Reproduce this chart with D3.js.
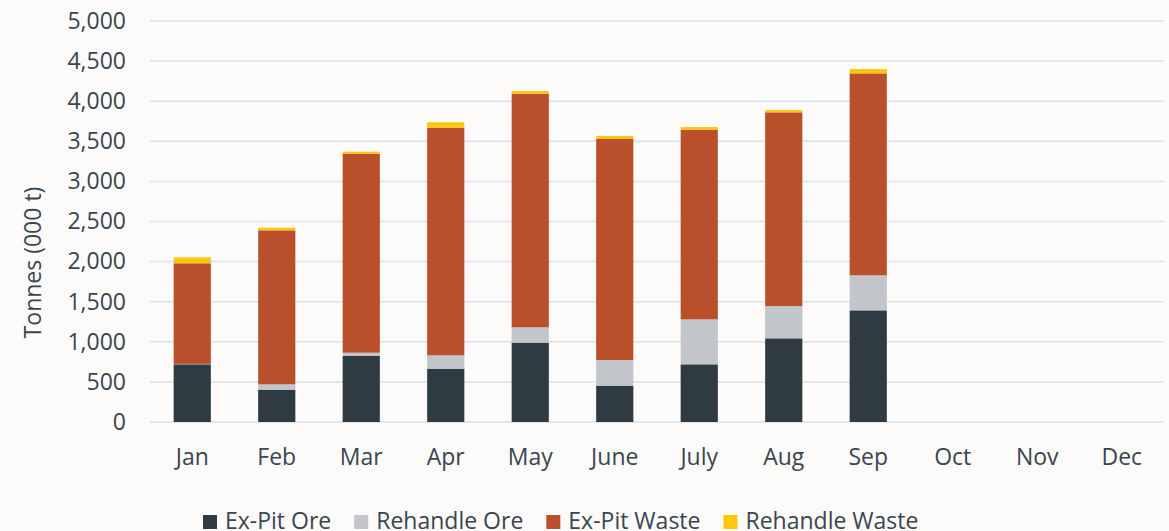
<!DOCTYPE html>
<html>
<head>
<meta charset="utf-8">
<script src="https://cdn.jsdelivr.net/npm/d3@7"></script>
<style>
  body { margin: 0; background: #fcfbfa; }
  svg { display: block; font-family: "Open Sans", sans-serif; }
</style>
</head>
<body>
<div id="viz"></div>
<script>
const width = 1169;
const height = 531;

// data (000 t)
const months = ["Jan", "Feb", "Mar", "Apr", "May", "June", "July", "Aug", "Sep", "Oct", "Nov", "Dec"];
const exPitOre = [720, 403, 823, 665, 989, 453, 719, 1043, 1392, 0, 0, 0];
const rehandleOre = [5, 67, 41, 166, 192, 320, 561, 403, 437, 0, 0, 0];
const exPitWaste = [1254, 1920, 2481, 2839, 2913, 2756, 2365, 2415, 2518, 0, 0, 0];
const rehandleWaste = [74, 33, 25, 67, 33, 37, 33, 29, 54, 0, 0, 0];
const yTicks = [0, 500, 1000, 1500, 2000, 2500, 3000, 3500, 4000, 4500, 5000];

const seriesNames = ["Ex-Pit Ore", "Rehandle Ore", "Ex-Pit Waste", "Rehandle Waste"];
const seriesColors = ["#2e3b43", "#c2c5c9", "#b9502b", "#ffc60a"];

const margins = { left: 150, right: 5, top: 21, bottom: 109 };
const visWidth = width - margins.left - margins.right;
const visHeight = height - margins.top - margins.bottom;

const textColor = "#3a454e";
const fontSize = "23px";

const svg = d3.select("#viz")
    .append("svg")
    .attr("width", width)
    .attr("height", height);

const g = svg.append("g")
    .attr("transform", `translate(${margins.left}, ${margins.top})`);

// build a table for the stack
const table = months.map((m, i) => ({
    month: m,
    "Ex-Pit Ore": exPitOre[i],
    "Rehandle Ore": rehandleOre[i],
    "Ex-Pit Waste": exPitWaste[i],
    "Rehandle Waste": rehandleWaste[i],
}));

const stacked = d3.stack().keys(seriesNames)(table);

const xScale = d3.scaleBand()
    .domain(months)
    .range([0, visWidth])
    .paddingInner(0.56)
    .paddingOuter(0.28);

const yScale = d3.scaleLinear()
    .domain([0, 5000])
    .range([visHeight, 0]);

const color = d3.scaleOrdinal()
    .domain(seriesNames)
    .range(seriesColors);

// gridlines
g.append("g")
    .selectAll("line")
    .data(yTicks)
    .enter()
    .append("line")
    .attr("x1", 0)
    .attr("x2", visWidth)
    .attr("y1", d => yScale(d))
    .attr("y2", d => yScale(d))
    .attr("stroke", "#d9e1ea")
    .attr("stroke-width", 1.5);

// y axis labels
const yAxis = g.append("g")
    .call(d3.axisLeft(yScale).tickValues(yTicks).tickFormat(d3.format(",")).tickSize(0).tickPadding(24));
yAxis.select(".domain").remove();
yAxis.selectAll("text")
    .attr("fill", textColor)
    .style("font-size", fontSize)
    .style("font-family", "'Open Sans', sans-serif");

// x axis labels
const xAxis = g.append("g")
    .attr("transform", `translate(0, ${visHeight})`)
    .call(d3.axisBottom(xScale).tickSize(0).tickPadding(27));
xAxis.select(".domain").remove();
xAxis.selectAll("text")
    .attr("fill", textColor)
    .style("font-size", fontSize)
    .style("font-family", "'Open Sans', sans-serif");

// bars
g.append("g")
    .selectAll("g")
    .data(stacked)
    .enter()
    .append("g")
    .attr("fill", d => color(d.key))
    .selectAll("rect")
    .data(d => d)
    .enter()
    .append("rect")
    .attr("x", d => xScale(d.data.month))
    .attr("width", xScale.bandwidth())
    .attr("y", d => yScale(d[1]))
    .attr("height", d => yScale(d[0]) - yScale(d[1]));

// y axis title
svg.append("text")
    .attr("transform", `translate(41, ${margins.top + visHeight / 2 + 41}) rotate(-90)`)
    .attr("text-anchor", "middle")
    .attr("fill", textColor)
    .style("font-size", fontSize)
    .text("Tonnes (000 t)");

// legend
const legend = svg.append("g")
    .attr("transform", "translate(203, 529)");
let lx = 0;
seriesNames.forEach((name, i) => {
    const item = legend.append("g").attr("transform", `translate(${lx}, 0)`);
    item.append("rect")
        .attr("x", 0)
        .attr("y", -14)
        .attr("width", 14)
        .attr("height", 14)
        .attr("fill", seriesColors[i]);
    const t = item.append("text")
        .attr("x", 22)
        .attr("y", 0)
        .attr("fill", textColor)
        .style("font-size", fontSize)
        .text(name);
    lx += 22 + t.node().getComputedTextLength() + 23;
});
</script>
</body>
</html>
